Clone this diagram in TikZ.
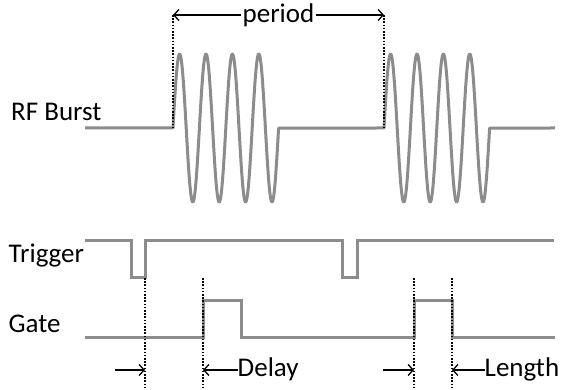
\documentclass[tikz,border=0pt]{standalone}
\usepackage{fontspec}
\setmainfont{Carlito}
\usetikzlibrary{arrows.meta}
\definecolor{sig}{RGB}{140,140,140}
\tikzset{
  signal/.style={draw=sig, line width=3pt, line join=miter},
  guide/.style={draw=black, line width=1.5pt, dash pattern=on 1.6pt off 1.6pt},
  dim/.style={draw=black, line width=1.3pt, -{Straight Barb[length=5pt,width=11pt,line width=1.3pt]}},
  lbl/.style={inner sep=0pt, anchor=base west, font=\fontsize{27}{31}\selectfont},
  mid/.style={inner xsep=1pt, inner ysep=0pt, font=\fontsize{27}{31}\selectfont}
}
\begin{document}
\begin{tikzpicture}[x=1pt,y=-1pt]
\useasboundingbox (0,0) rectangle (566,390);

% labels
\node[lbl] (rf) at (11,120.5) {RF Burst};
\node[lbl] (trig) at (8.5,263) {Trigger};
\node[lbl] (gate) at (8.5,332.5) {Gate};

% RF burst signal
\draw[signal, line join=round] (85,128) -- (173,128)
  -- plot[domain=0:105.6, samples=240] ({173+\x}, {128-74*sin(13.63636*\x)})
  -- (384,128)
  -- plot[domain=0:105.6, samples=240] ({384+\x}, {128-74*sin(13.63636*\x)})
  -- (555,128);

% Trigger signal
\draw[signal] (85,241) -- (131,241) -- (131,278) -- (145,278) -- (145,241)
  -- (342,241) -- (342,278) -- (357,278) -- (357,241) -- (554,241);

% Gate signal
\draw[signal] (85,338) -- (203,338) -- (203,301) -- (241,301) -- (241,338)
  -- (414,338) -- (414,301) -- (452,301) -- (452,338) -- (555,338);

% guide coordinates
\coordinate (p1t) at (173,15);
\coordinate (p1b) at (173,128);
\coordinate (p2t) at (384,15);
\coordinate (p2b) at (384,128);
\coordinate (t1t) at (145,278);
\coordinate (t1b) at (145,390);
\coordinate (g1t) at (203,278);
\coordinate (g1b) at (203,390);
\coordinate (g2t) at (414,278);
\coordinate (g2b) at (414,390);
\coordinate (g3t) at (452,278);
\coordinate (g3b) at (452,390);

\draw[guide] (p1t) -- (p1b);
\draw[guide] (p2t) -- (p2b);
\draw[guide] (t1t) -- (t1b);
\draw[guide] (g1t) -- (g1b);
\draw[guide] (g2t) -- (g2b);
\draw[guide] (g3t) -- (g3b);

% period dimension
\node[mid] (per) at (278.5,15) {period};
\draw[dim] (per.west) -- (p1t);
\draw[dim] (per.east) -- (p2t);

% bottom dimensions
\coordinate (a1s) at (115,370);
\coordinate (a1e) at (145,370);
\coordinate (a3s) at (383,370);
\coordinate (a3e) at (414,370);
\coordinate (d2e) at (203,370);
\coordinate (l2e) at (452,370);
\draw[dim] (a1s) -- (a1e);
\draw[dim] (a3s) -- (a3e);
\node[lbl] (delay) at (237.5,377) {Delay};
\node[lbl] (len) at (484.5,377) {Length};
\draw[dim] (delay.west |- d2e) -- (d2e);
\draw[dim] (len.west |- l2e) -- (l2e);
\end{tikzpicture}
\end{document}
